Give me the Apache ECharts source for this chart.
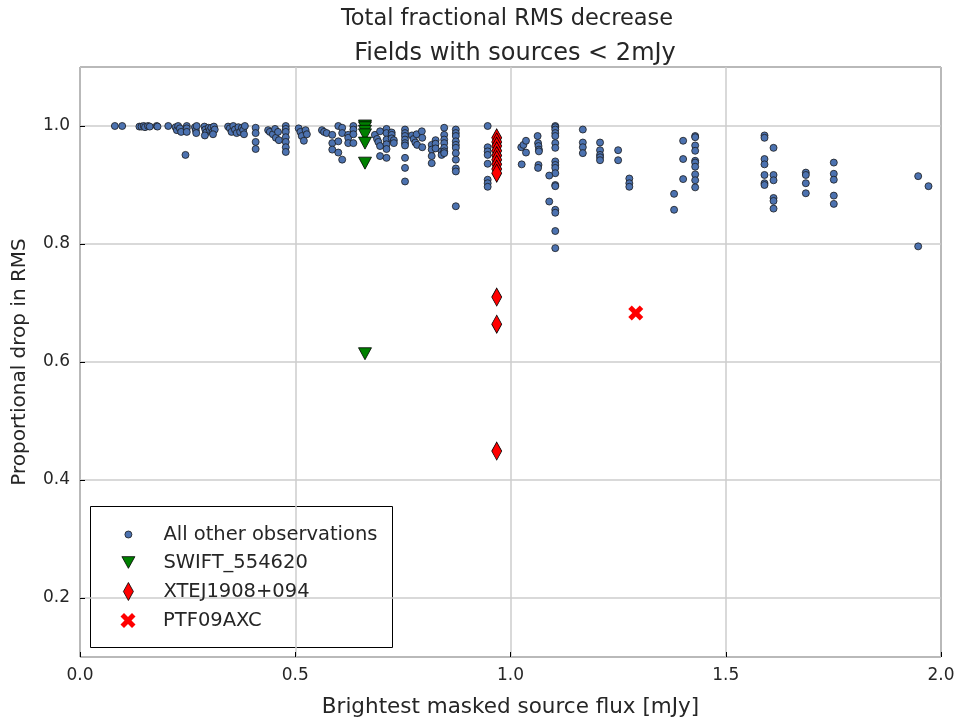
<!DOCTYPE html>
<html>
<head>
<meta charset="utf-8">
<script src="https://cdn.jsdelivr.net/npm/echarts@6/dist/echarts.min.js"></script>
<style>html,body{margin:0;padding:0;background:#fff}#c{width:960px;height:724px}</style>
</head>
<body>
<div id="c"></div>
<script>
// ---- data ----
var superTitle = 'Total fractional RMS decrease';
var plotTitle = 'Fields with sources < 2mJy';
var xName = 'Brightest masked source flux [mJy]';
var yName = 'Proportional drop in RMS';
var seriesNames = ['All other observations', 'SWIFT_554620', 'XTEJ1908+094', 'PTF09AXC'];

var otherObs = [
  [0.081,1.0],[0.098,1.0],
  [0.138,0.999],[0.143,0.999],[0.148,1.0],[0.151,0.998],[0.158,1.0],[0.162,0.999],[0.178,1.0],[0.18,0.999],
  [0.205,1.0],
  [0.222,0.998],[0.225,0.993],[0.228,1.0],[0.232,0.996],[0.235,0.99],
  [0.248,1.0],[0.248,0.996],[0.248,0.99],[0.245,0.951],
  [0.267,0.998],[0.269,0.993],[0.271,1.0],[0.27,0.988],
  [0.289,0.999],[0.291,0.994],[0.293,0.989],[0.29,0.984],[0.299,0.997],[0.302,0.993],[0.305,0.997],[0.308,0.99],[0.311,0.999],[0.313,0.994],[0.309,0.986],
  [0.344,0.999],[0.348,0.996],[0.352,0.99],[0.356,1.0],[0.36,0.994],[0.364,0.988],[0.368,0.998],[0.372,0.99],[0.376,0.997],[0.379,0.993],[0.383,1.0],[0.381,0.986],
  [0.408,0.997],[0.408,0.988],[0.408,0.973],[0.408,0.961],
  [0.437,0.993],[0.441,0.99],[0.448,0.986],[0.453,0.995],[0.455,0.98],[0.46,0.99],[0.462,0.976],
  [0.478,1.0],[0.478,0.995],[0.478,0.99],[0.478,0.981],[0.478,0.973],[0.478,0.964],[0.478,0.956],
  [0.508,0.996],[0.512,0.99],[0.515,0.983],[0.52,0.975],[0.524,0.993],[0.527,0.986],
  [0.562,0.993],[0.567,0.99],[0.573,0.988],
  [0.586,0.985],[0.586,0.971],[0.586,0.96],
  [0.6,1.0],[0.6,0.974],[0.6,0.955],
  [0.609,0.997],[0.609,0.988],[0.609,0.943],
  [0.623,0.985],[0.623,0.98],[0.623,0.971],
  [0.635,1.0],[0.635,0.994],[0.635,0.986],[0.635,0.971],
  [0.685,0.985],[0.69,0.978],[0.693,0.973],
  [0.697,0.991],[0.697,0.966],[0.697,0.949],
  [0.712,0.995],[0.712,0.988],[0.712,0.977],[0.712,0.969],[0.712,0.961],[0.712,0.946],
  [0.724,0.989],[0.724,0.985],[0.724,0.979],[0.729,0.976],[0.729,0.971],
  [0.755,0.994],[0.755,0.988],[0.755,0.983],[0.755,0.977],[0.755,0.971],[0.755,0.967],[0.755,0.946],[0.755,0.929],[0.755,0.906],
  [0.771,0.984],[0.775,0.978],[0.779,0.972],[0.783,0.968],[0.782,0.986],
  [0.794,0.991],[0.795,0.98],[0.795,0.964],
  [0.817,0.968],[0.817,0.96],[0.817,0.949],[0.817,0.937],
  [0.826,0.976],[0.826,0.97],[0.826,0.962],
  [0.84,0.957],[0.84,0.951],
  [0.846,0.997],[0.846,0.985],[0.846,0.977],[0.846,0.971],[0.846,0.963],[0.846,0.957],[0.846,0.954],
  [0.873,0.994],[0.873,0.988],[0.873,0.983],[0.873,0.974],[0.873,0.968],[0.873,0.963],[0.873,0.954],[0.873,0.943],[0.873,0.928],[0.873,0.923],[0.873,0.864],
  [0.947,1.0],[0.947,0.964],[0.947,0.957],[0.947,0.951],[0.947,0.936],[0.947,0.909],[0.947,0.903],[0.947,0.897],
  [1.025,0.964],[1.03,0.968],[1.036,0.975],[1.036,0.955],[1.026,0.935],
  [1.063,0.983],[1.064,0.971],[1.065,0.966],[1.066,0.96],[1.066,0.957],[1.065,0.934],[1.064,0.929],
  [1.104,1.0],[1.104,0.998],[1.104,0.994],[1.104,0.988],[1.104,0.983],[1.104,0.971],[1.104,0.963],[1.104,0.94],[1.104,0.934],[1.104,0.929],[1.104,0.92],[1.104,0.9],[1.104,0.898],[1.104,0.858],[1.104,0.853],[1.104,0.822],[1.104,0.793],
  [1.09,0.916],[1.09,0.872],
  [1.168,0.994],[1.168,0.972],[1.168,0.964],[1.168,0.954],
  [1.208,0.972],[1.208,0.959],[1.208,0.951],[1.208,0.947],[1.208,0.942],
  [1.25,0.959],[1.25,0.942],
  [1.276,0.911],[1.276,0.903],[1.276,0.897],
  [1.38,0.885],[1.38,0.858],
  [1.401,0.975],[1.401,0.944],[1.401,0.910],
  [1.429,0.983],[1.429,0.981],[1.429,0.967],[1.429,0.958],[1.429,0.941],[1.429,0.938],[1.429,0.931],[1.429,0.918],[1.429,0.908],[1.429,0.896],
  [1.59,0.984],[1.59,0.980],[1.59,0.944],[1.59,0.935],[1.59,0.917],[1.59,0.903],[1.59,0.900],
  [1.611,0.963],[1.611,0.917],[1.611,0.908],[1.611,0.878],[1.611,0.873],[1.611,0.860],
  [1.686,0.921],[1.686,0.917],[1.686,0.903],[1.686,0.886],
  [1.751,0.938],[1.751,0.919],[1.751,0.909],[1.751,0.882],[1.751,0.868],
  [1.947,0.915],[1.947,0.796],
  [1.971,0.898]
];
var swiftObs = [[0.662,1.0],[0.662,0.997],[0.662,0.991],[0.662,0.985],[0.662,0.971],[0.662,0.937],[0.662,0.614]];
var xteObs = [[0.968,0.98],[0.968,0.973],[0.968,0.966],[0.968,0.958],[0.968,0.95],[0.968,0.943],[0.968,0.935],[0.968,0.927],[0.968,0.92],[0.968,0.71],[0.968,0.664],[0.968,0.449]];
var ptfObs = [[1.291,0.683]];

var xTicks = [0.0, 0.5, 1.0, 1.5, 2.0];

// ---- chart ----
var chart = echarts.init(document.getElementById('c'), null, {renderer: 'canvas'});
var FONT = 'DejaVu Sans';
var TXT = '#262626';
var xMark = 'path://M-3,-1.6L-1.6,-3L0,-1.4L1.6,-3L3,-1.6L1.4,0L3,1.6L1.6,3L0,1.4L-1.6,3L-3,1.6L-1.4,0Z';
var triDown = 'path://M0,0L2,0L1,1.8Z';

function legendFor(name, icon, w, h, centre, border) {
  return {
    show: true,
    data: [{name: name, icon: icon}],
    left: 128 - w / 2,
    top: centre - 8.5,
    itemWidth: w, itemHeight: h,
    padding: 0,
    selectedMode: false,
    orient: 'vertical',
    itemStyle: {borderColor: border || 'transparent', borderWidth: border ? 0.8 : 0},
    textStyle: {fontFamily: FONT, fontSize: 19.5, color: TXT, padding: [0, 0, 0, 163 - (128 + w / 2) - 5]}
  };
}

var option = {
  animation: false,
  backgroundColor: '#fff',
  title: [
    {text: superTitle, left: 502, top: 3, textAlign: 'center',
     textStyle: {fontFamily: FONT, fontSize: 22.5, fontWeight: 'normal', color: TXT}},
    {text: plotTitle, left: 510, top: 37, textAlign: 'center',
     textStyle: {fontFamily: FONT, fontSize: 24, fontWeight: 'normal', color: TXT}}
  ],
  legend: [
    legendFor(seriesNames[0], 'circle', 7, 7, 533, '#1a1a1a'),
    legendFor(seriesNames[1], triDown, 13, 12, 561, '#000'),
    legendFor(seriesNames[2], 'diamond', 10, 18, 590, '#000'),
    legendFor(seriesNames[3], xMark, 15, 15, 619, null)
  ],
  graphic: [{
    type: 'rect', left: 90, top: 506, z: -1,
    shape: {width: 302, height: 141},
    style: {fill: '#fff', stroke: '#000', lineWidth: 1}
  }],
  grid: {left: 80, right: 19, top: 67, bottom: 67, show: true, borderColor: '#000', borderWidth: 1, backgroundColor: 'transparent'},
  xAxis: [{
    type: 'value', min: 0, max: 2.0, interval: 0.5,
    name: xName, nameLocation: 'middle', nameGap: 39,
    nameTextStyle: {fontFamily: FONT, fontSize: 21.5, color: TXT},
    axisLine: {show: false},
    axisTick: {show: true, inside: true, length: 5, lineStyle: {color: '#000'}},
    axisLabel: {fontFamily: FONT, fontSize: 17, color: TXT, margin: 10,
      customValues: xTicks,
      formatter: function (v) { return v.toFixed(1); }},
    splitLine: {show: true, lineStyle: {color: '#cccccc', width: 1.5}}
  }],
  yAxis: [{
    type: 'value', min: 0.1, max: 1.1, splitNumber: 5,
    name: yName, nameLocation: 'middle', nameGap: 50,
    nameTextStyle: {fontFamily: FONT, fontSize: 20, color: TXT},
    axisLine: {show: false},
    axisTick: {show: true, inside: true, length: 5, lineStyle: {color: '#000'}},
    axisLabel: {fontFamily: FONT, fontSize: 17, color: TXT, margin: 10,
      showMinLabel: false, showMaxLabel: false,
      formatter: function (v) { return v.toFixed(1); }},
    splitLine: {show: true, lineStyle: {color: '#cccccc', width: 1.5}}
  }],
  series: [
    {name: seriesNames[0], type: 'scatter', data: otherObs, symbol: 'circle', symbolSize: 7,
     itemStyle: {color: '#4C72B0', borderColor: '#1a1a1a', borderWidth: 0.8, opacity: 1}, z: 2},
    {name: seriesNames[1], type: 'scatter', data: swiftObs, symbol: triDown, symbolSize: [13, 12],
     itemStyle: {color: 'green', borderColor: '#000', borderWidth: 0.8, opacity: 1}, z: 3},
    {name: seriesNames[2], type: 'scatter', data: xteObs, symbol: 'diamond', symbolSize: [10, 18],
     itemStyle: {color: 'red', borderColor: '#000', borderWidth: 0.8, opacity: 1}, z: 4},
    {name: seriesNames[3], type: 'scatter', data: ptfObs, symbol: xMark, symbolSize: 15,
     itemStyle: {color: 'red', opacity: 1}, z: 5}
  ]
};
chart.setOption(option);
</script>
</body>
</html>
